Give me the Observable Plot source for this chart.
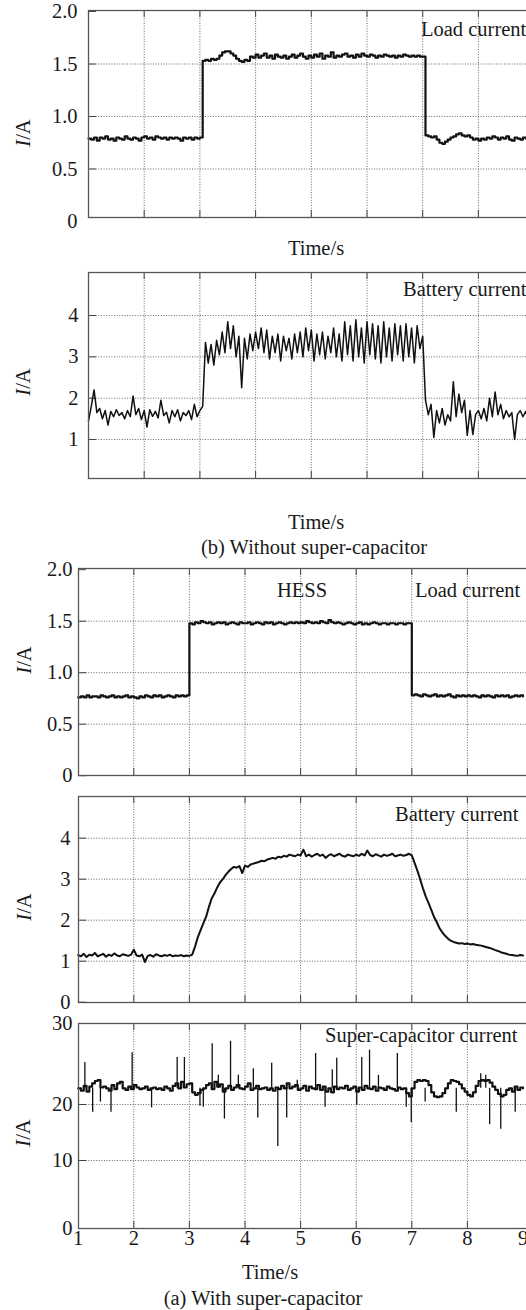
<!DOCTYPE html>
<html><head><meta charset="utf-8">
<script src="https://cdn.jsdelivr.net/npm/d3@7"></script>
<script src="https://cdn.jsdelivr.net/npm/@observablehq/plot@0.6"></script>
<style>
body{margin:0;background:#fff;}
#root{position:relative;width:526px;height:1310px;overflow:hidden;background:#fff;font-family:"Liberation Serif","Times New Roman",serif;color:#1a1a1a;}
.panel{position:absolute;left:0;}
.lbl{position:absolute;font-size:20.5px;line-height:1;white-space:nowrap;transform:translateY(-50%);}
.ctr{transform:translate(-50%,-50%);}
.ylab{position:absolute;font-size:20.5px;line-height:1;white-space:nowrap;transform:translate(-50%,-50%) rotate(-90deg);}
</style></head>
<body><div id="root"></div>
<script>
// ---- sampling grid (s) ----
const t = d3.range(0, 161).map(i => +(1 + i * 0.05).toFixed(2));
const xGridTicks = [2, 3, 4, 5, 6, 7, 8];
const xLabelTicks = [1, 2, 3, 4, 5, 6, 7, 8, 9];

// ---- (b) Without super-capacitor: load current (A) ----
const loadNoSC = [
0.79,0.78,0.80,0.77,0.80,0.79,0.81,0.78,0.79,0.77,0.80,0.79,0.78,0.81,0.79,0.78,0.80,0.79,0.77,0.80,
0.81,0.79,0.80,0.78,0.81,0.80,0.79,0.80,0.78,0.80,0.79,0.80,0.79,0.77,0.80,0.79,0.80,0.78,0.80,0.79,
0.80,1.53,1.54,1.53,1.55,1.54,1.55,1.58,1.61,1.62,1.62,1.60,1.58,1.55,1.53,1.52,1.54,1.53,1.57,1.56,
1.59,1.56,1.58,1.60,1.56,1.58,1.55,1.59,1.57,1.56,1.58,1.55,1.57,1.59,1.56,1.58,1.60,1.57,1.55,1.58,
1.56,1.59,1.57,1.60,1.55,1.58,1.57,1.61,1.56,1.58,1.57,1.59,1.60,1.57,1.58,1.56,1.59,1.57,1.60,1.58,
1.57,1.59,1.58,1.56,1.58,1.57,1.59,1.58,1.57,1.58,1.56,1.58,1.57,1.59,1.58,1.57,1.58,1.57,1.58,1.57,
1.57,0.82,0.81,0.80,0.81,0.78,0.75,0.74,0.76,0.78,0.80,0.81,0.83,0.84,0.82,0.81,0.82,0.80,0.78,0.79,
0.77,0.79,0.78,0.80,0.79,0.81,0.80,0.78,0.80,0.79,0.81,0.78,0.77,0.80,0.79,0.78,0.80,0.79,0.78,0.80,0.79
];

// ---- (b) Without super-capacitor: battery current (A) ----
const battNoSC = [
1.45,1.80,2.20,1.65,1.75,1.50,1.70,1.35,1.68,1.55,1.72,1.58,1.65,1.50,1.70,1.55,2.05,1.60,1.75,1.48,
1.70,1.30,1.72,1.56,1.68,1.52,1.95,1.58,1.66,1.40,1.70,1.55,1.72,1.45,1.65,1.58,1.70,1.48,1.85,1.55,
1.70,1.80,3.35,2.85,3.30,2.80,3.40,3.05,3.60,3.10,3.85,3.20,3.75,3.00,3.50,2.25,3.45,2.95,3.55,3.15,
3.60,3.20,3.70,3.10,3.65,2.95,3.50,3.10,3.55,2.90,3.50,3.15,3.45,2.95,3.55,3.10,3.60,3.00,3.70,3.15,
3.65,2.90,3.55,3.05,3.60,2.95,3.50,3.10,3.70,3.00,3.55,2.90,3.85,3.05,3.75,2.90,3.90,3.00,3.70,2.85,
3.85,3.05,3.80,2.95,3.75,2.85,3.85,3.00,3.70,2.90,3.80,3.05,3.75,2.90,3.80,3.00,3.70,2.85,3.75,3.20,
3.50,1.95,1.60,1.85,1.05,1.70,1.40,1.75,1.35,1.60,1.45,2.40,1.55,2.10,1.65,1.95,1.10,1.70,1.12,1.60,
1.70,1.50,1.75,1.45,2.00,1.55,2.15,1.60,1.85,1.50,1.70,1.55,1.65,1.00,1.60,1.70,1.55,1.68,1.50,1.65,1.60
];

// ---- (a) With super-capacitor (HESS): load current (A) ----
const loadHESS = [
0.76,0.77,0.76,0.78,0.76,0.77,0.77,0.76,0.78,0.77,0.76,0.77,0.78,0.76,0.77,0.76,0.77,0.78,0.76,0.77,
0.76,0.75,0.77,0.76,0.78,0.77,0.76,0.78,0.77,0.78,0.76,0.77,0.78,0.77,0.76,0.78,0.77,0.78,0.77,0.78,
1.48,1.47,1.49,1.48,1.50,1.49,1.48,1.49,1.47,1.48,1.49,1.48,1.49,1.47,1.48,1.49,1.48,1.47,1.49,1.48,
1.48,1.49,1.47,1.48,1.49,1.48,1.47,1.49,1.48,1.49,1.47,1.48,1.49,1.48,1.47,1.48,1.49,1.48,1.49,1.48,
1.49,1.48,1.50,1.49,1.48,1.49,1.48,1.50,1.49,1.48,1.51,1.49,1.48,1.49,1.48,1.47,1.48,1.49,1.48,1.47,
1.48,1.49,1.47,1.48,1.47,1.48,1.49,1.48,1.47,1.48,1.48,1.47,1.48,1.48,1.47,1.48,1.48,1.47,1.48,1.48,
0.78,0.79,0.78,0.77,0.79,0.78,0.77,0.78,0.79,0.77,0.78,0.77,0.78,0.79,0.77,0.76,0.78,0.77,0.78,0.77,
0.78,0.77,0.78,0.77,0.76,0.78,0.77,0.78,0.77,0.76,0.78,0.77,0.78,0.77,0.78,0.76,0.77,0.78,0.77,0.78,0.77
];

// ---- (a) With super-capacitor (HESS): battery current (A) ----
const battHESS = [
1.15,1.12,1.18,1.10,1.16,1.14,1.20,1.12,1.15,1.18,1.11,1.16,1.13,1.19,1.14,1.12,1.17,1.15,1.13,1.16,
1.28,1.14,1.12,1.16,0.98,1.13,1.15,1.11,1.17,1.14,1.12,1.15,1.13,1.16,1.12,1.14,1.13,1.15,1.12,1.14,
1.13,1.16,1.35,1.58,1.75,1.92,2.08,2.32,2.53,2.65,2.80,2.92,3.00,3.10,3.18,3.25,3.30,3.28,3.32,3.15,
3.33,3.30,3.36,3.38,3.40,3.42,3.45,3.44,3.48,3.50,3.52,3.50,3.55,3.53,3.57,3.55,3.60,3.58,3.56,3.60,
3.58,3.72,3.56,3.60,3.55,3.59,3.62,3.57,3.60,3.52,3.58,3.61,3.56,3.59,3.62,3.57,3.55,3.60,3.58,3.56,
3.60,3.57,3.62,3.58,3.70,3.59,3.56,3.61,3.58,3.55,3.60,3.57,3.59,3.62,3.56,3.58,3.60,3.57,3.59,3.62,
3.58,3.40,3.21,3.00,2.78,2.58,2.42,2.25,2.08,1.95,1.80,1.70,1.62,1.55,1.50,1.47,1.45,1.43,1.44,1.42,
1.43,1.41,1.42,1.40,1.39,1.38,1.36,1.34,1.32,1.30,1.27,1.25,1.22,1.20,1.18,1.16,1.15,1.14,1.13,1.15,1.14
];

// ---- (a) With super-capacitor (HESS): super-capacitor current (A) ----
const scHESS = [
22.0,21.7,22.3,21.6,22.2,22.6,22.9,23.0,22.1,22.2,22.0,21.7,22.4,21.9,22.6,22.8,22.0,21.8,22.2,21.9,
22.4,22.1,21.9,22.0,22.2,21.8,22.0,22.1,21.9,22.0,21.8,22.2,22.0,21.7,22.3,22.6,22.0,22.8,22.1,22.5,
22.6,21.5,21.2,21.4,21.8,22.0,22.4,22.6,21.9,22.8,22.2,22.5,21.6,22.0,22.3,21.8,22.1,22.4,22.0,21.9,
22.2,22.6,21.8,22.0,22.3,21.9,22.0,22.1,21.8,22.0,21.7,22.1,21.9,22.3,22.0,22.6,22.0,22.2,22.4,21.8,
22.0,22.3,21.7,22.2,22.0,21.9,22.4,21.8,22.2,21.6,22.0,21.5,22.2,21.9,22.1,22.0,22.3,21.8,22.0,22.2,
21.6,22.1,21.8,22.3,22.0,21.9,22.2,21.7,22.1,22.0,21.8,22.2,22.0,21.9,21.7,22.1,21.9,22.0,21.4,21.0,
22.0,22.8,23.0,22.9,23.0,22.9,22.4,21.5,21.0,20.9,21.0,21.4,22.0,22.6,23.0,22.9,22.8,22.5,22.0,21.6,
21.2,21.0,21.5,22.3,22.9,23.0,22.9,23.0,22.7,22.2,21.8,21.3,21.0,21.2,21.8,22.0,21.6,22.2,21.8,22.1,22.0
];
const spikeBase = 22;
const spikeT = [1.12,1.40,1.97,2.78,2.91,3.19,3.41,3.52,3.74,3.88,4.15,4.48,4.94,5.27,5.57,5.65,6.10,6.24,6.40,6.74,8.24,8.33,
                1.26,1.59,2.32,3.25,3.63,4.23,4.59,4.75,5.44,6.01,6.90,6.99,7.24,7.80,8.40,8.60,8.86];
const spikeV = [25.2,20.3,26.4,25.8,25.8,19.7,27.5,23.6,27.8,23.6,24.4,25.1,23.0,26.3,24.3,25.7,25.8,26.7,23.6,26.3,23.8,23.6,
                18.6,18.6,19.4,19.5,17.4,17.6,12.5,17.6,19.5,19.8,19.5,16.8,20.3,18.6,16.4,15.6,18.6];
// the printed y axis of the super-capacitor panel is unevenly spaced (0, 10, 20, 30)
const scAxisTicks = [0, 10, 20, 30];
const scAxisPixels = [0, 68, 124, 205];

const root = document.getElementById("root");
const W = 545;
const FS = 20.5;
const fmt1 = d => d === 0 ? "0" : d.toFixed(1);
const fmt0 = d => String(d);

function makePanel(cfg) {
  const mt = 12, mb = cfg.xLabels ? 30 : 12;
  const top = cfg.frameTop - mt;
  const H = cfg.frameBottom - cfg.frameTop + mt + mb;
  const fw = W - cfg.frameLeft - 5, fh = cfg.frameBottom - cfg.frameTop;
  const rows = t.map((x, i) => ({t: x, v: cfg.values[i]}));
  const marks = [
    Plot.gridX(xGridTicks, {stroke: "#555", strokeOpacity: 0.9, strokeDasharray: "1,1.6"}),
    Plot.gridY(cfg.grid, {stroke: "#555", strokeOpacity: 0.9, strokeDasharray: "1,1.6"}),
    Plot.tickY(cfg.tickMarks || cfg.yTicks, {y: d => d, stroke: "#444", insetRight: fw - 8}),
    Plot.tickX(xGridTicks, {x: d => d, stroke: "#444", insetBottom: fh - 7}),
    Plot.tickX(xGridTicks, {x: d => d, stroke: "#444", insetTop: fh - 7}),
    Plot.line(rows, {x: "t", y: "v", curve: cfg.curve, stroke: "#111", strokeWidth: cfg.sw})
  ];
  if (cfg.spikes) {
    const sp = spikeT.map((x, i) => ({t: x, v: spikeV[i]}));
    marks.push(Plot.ruleX(sp, {x: "t", y1: spikeBase, y2: "v", stroke: "#111", strokeWidth: 1.3}));
  }
  marks.push(Plot.frame({stroke: "#555", strokeWidth: 1.3}));
  marks.push(Plot.axisY(cfg.yTicks, {tickSize: 0, tickPadding: cfg.pad, tickFormat: cfg.fmt, fontSize: FS, label: null}));
  if (cfg.xLabels) marks.push(Plot.axisX(xLabelTicks, {tickSize: 0, tickPadding: 2, fontSize: FS, label: null}));
  const yOpts = {domain: cfg.yDomain, range: cfg.yRange.map(v => v - top), label: null};
  if (cfg.yTransform) yOpts.transform = cfg.yTransform;
  const svg = Plot.plot({
    width: W, height: H,
    marginTop: mt, marginBottom: mb, marginLeft: cfg.frameLeft, marginRight: 5,
    x: cfg.xLabels ? {domain: [1, 9], range: cfg.xRange, label: null}
                   : {domain: [1, 9], range: cfg.xRange, label: null, axis: null},
    y: yOpts,
    style: {fontFamily: '"Liberation Serif","Times New Roman",serif', fontSize: FS + "px", color: "#1a1a1a", background: "transparent", maxWidth: "none", overflow: "visible"},
    marks
  });
  const div = document.createElement("div");
  div.className = "panel";
  div.style.top = top + "px";
  div.appendChild(svg);
  root.appendChild(div);
}

makePanel({values: loadNoSC, frameTop: 10, frameBottom: 217, frameLeft: 88, xRange: [88, 533.6], sw: 2.2,
  yDomain: [0, 2], yRange: [221, 11], yTicks: [0, 0.5, 1, 1.5, 2], tickMarks: [0.5, 1, 1.5, 2], grid: [0.5, 1, 1.5], fmt: fmt1, pad: 11, curve: "step-after"});
makePanel({values: battNoSC, frameTop: 272, frameBottom: 478, frameLeft: 88, xRange: [88, 533.6], sw: 1.5,
  yDomain: [0, 5], yRange: [480.3, 273.7], yTicks: [1, 2, 3, 4], grid: [1, 2, 3, 4], fmt: fmt0, pad: 10, curve: "linear"});
makePanel({values: loadHESS, frameTop: 568, frameBottom: 775, frameLeft: 78, xRange: [77.7, 522.5], sw: 2.2,
  yDomain: [0, 2], yRange: [775.2, 569.2], yTicks: [0, 0.5, 1, 1.5, 2], grid: [0.5, 1, 1.5], fmt: fmt1, pad: 6, curve: "step-after"});
makePanel({values: battHESS, frameTop: 796, frameBottom: 1002, frameLeft: 78, xRange: [77.7, 522.5], sw: 2.0,
  yDomain: [0, 5], yRange: [1001.7, 796.7], yTicks: [0, 1, 2, 3, 4], grid: [1, 2, 3, 4], fmt: fmt0, pad: 8, curve: "linear"});
makePanel({values: scHESS, frameTop: 1023, frameBottom: 1228, frameLeft: 78, xRange: [77.7, 522.5], sw: 2.2,
  yDomain: [0, 205], yRange: [1228, 1023], yTransform: d3.scaleLinear().domain(scAxisTicks).range(scAxisPixels),
  yTicks: scAxisTicks, grid: [10, 20], fmt: fmt0, pad: 6, curve: "step-after", spikes: true, xLabels: true});

function label(text, x, y, cls) {
  const d = document.createElement("div");
  d.className = cls || "lbl";
  d.style.left = x + "px"; d.style.top = y + "px";
  d.innerHTML = text;
  root.appendChild(d);
}
// in-panel annotations
label("Load current", 421, 29);
label("Battery current", 403, 289);
label("HESS", 302, 590, "lbl ctr");
label("Load current", 415, 590);
label("Battery current", 395, 814);
label("Super-capacitor current", 325, 1035);
// axis titles and captions
label("Time/s", 316, 248, "lbl ctr");
label("Time/s", 316, 522, "lbl ctr");
label("(b) Without super-capacitor", 314, 547, "lbl ctr");
label("Time/s", 270, 1272, "lbl ctr");
label("(a) With super-capacitor", 263, 1298, "lbl ctr");
const yl = '<i>I</i>/A';
label(yl, 23, 133, "ylab");
label(yl, 23, 382, "ylab");
label(yl, 24, 660, "ylab");
label(yl, 24, 907, "ylab");
label(yl, 23, 1133, "ylab");
</script>
</body></html>
